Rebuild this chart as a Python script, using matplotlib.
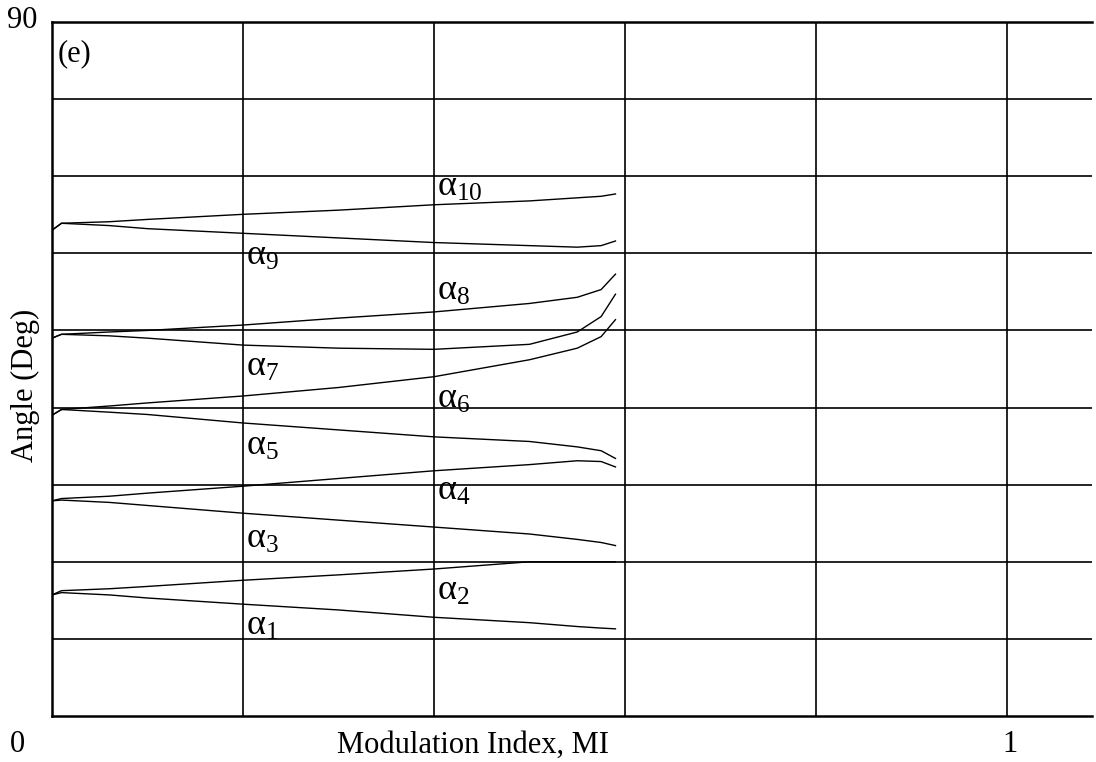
import matplotlib
matplotlib.use('Agg')
import matplotlib.pyplot as plt

plt.rcParams['font.family'] = ['Liberation Serif', 'DejaVu Serif']
plt.rcParams['mathtext.fontset'] = 'custom'
plt.rcParams['mathtext.rm'] = 'Liberation Serif'

# Modulation index sample points
mi = [0, 0.01, 0.06, 0.1, 0.2, 0.3, 0.4, 0.5, 0.55, 0.575, 0.59]

# Switching angles (deg)
alpha = {
    1: [15.7, 16.0, 15.7, 15.3, 14.5, 13.75, 12.8, 12.1, 11.6, 11.4, 11.3],
    2: [15.7, 16.25, 16.5, 16.8, 17.6, 18.3, 19.06, 20.0, 20.0, 20.0, 20.0],
    3: [27.9, 28.0, 27.7, 27.3, 26.3, 25.4, 24.5, 23.6, 22.9, 22.5, 22.1],
    4: [27.9, 28.2, 28.5, 28.9, 29.8, 30.8, 31.8, 32.6, 33.1, 33.0, 32.3],
    5: [39.0, 39.75, 39.4, 39.1, 38.0, 37.1, 36.2, 35.6, 34.9, 34.4, 33.4],
    6: [39.0, 39.75, 40.2, 40.6, 41.5, 42.6, 44.0, 46.2, 47.7, 49.2, 51.4],
    7: [49.0, 49.5, 49.3, 49.0, 48.1, 47.7, 47.55, 48.2, 49.8, 51.8, 54.7],
    8: [49.0, 49.5, 49.8, 50.0, 50.7, 51.6, 52.4, 53.5, 54.3, 55.3, 57.3],
    9: [63.0, 63.9, 63.6, 63.2, 62.6, 62.0, 61.4, 61.0, 60.8, 61.0, 61.6],
    10: [63.0, 63.9, 64.1, 64.4, 65.06, 65.6, 66.3, 66.8, 67.2, 67.4, 67.7],
}

# label positions (x, y) in data units
label_pos = {
    10: (0.403, 68.6), 9: (0.203, 59.6), 8: (0.403, 55.1), 7: (0.203, 45.2),
    6: (0.403, 41.1), 5: (0.203, 35.0), 4: (0.403, 29.1), 3: (0.203, 22.9),
    2: (0.403, 16.1), 1: (0.203, 11.6),
}

fig = plt.figure(figsize=(10.96, 7.62), dpi=100)
ax = fig.add_axes([0.0474, 0.0604, 0.9490, 0.9107])

for k, vals in alpha.items():
    ax.plot(mi, vals, color='black', lw=1.0)
    lx, ly = label_pos[k]
    ax.text(lx, ly, r'$\mathregular{\alpha_{%d}}$' % k, fontsize=26, va='center', ha='left')

ax.set_xlim(0, 1.089)
ax.set_ylim(0, 90)
ax.set_xticks([0.2, 0.4, 0.6, 0.8, 1.0])
ax.set_yticks(range(10, 90, 10))
ax.grid(True, color='black', lw=1.2)
ax.tick_params(length=0, labelbottom=False, labelleft=False)
ax.spines['right'].set_visible(False)
for s in ['left', 'bottom', 'top']:
    ax.spines[s].set_linewidth(1.8)

ax.text(0.005, 0.975, '(e)', transform=ax.transAxes, fontsize=22, va='top', ha='left')

fig.text(17 / 1096, 1 - 745 / 762, '0', fontsize=22, ha='center', va='center')
fig.text(1010 / 1096, 1 - 745 / 762, '1', fontsize=22, ha='center', va='center')
fig.text(22 / 1096, 1 - 20 / 762, '90', fontsize=22, ha='center', va='center')
fig.text(473 / 1096, 1 - 745 / 762, 'Modulation Index, MI', fontsize=22, ha='center', va='center')
fig.text(25 / 1096, 1 - 385 / 762, 'Angle (Deg)', fontsize=22, ha='center', va='center', rotation=90)

fig.savefig('out.png', dpi=100)
